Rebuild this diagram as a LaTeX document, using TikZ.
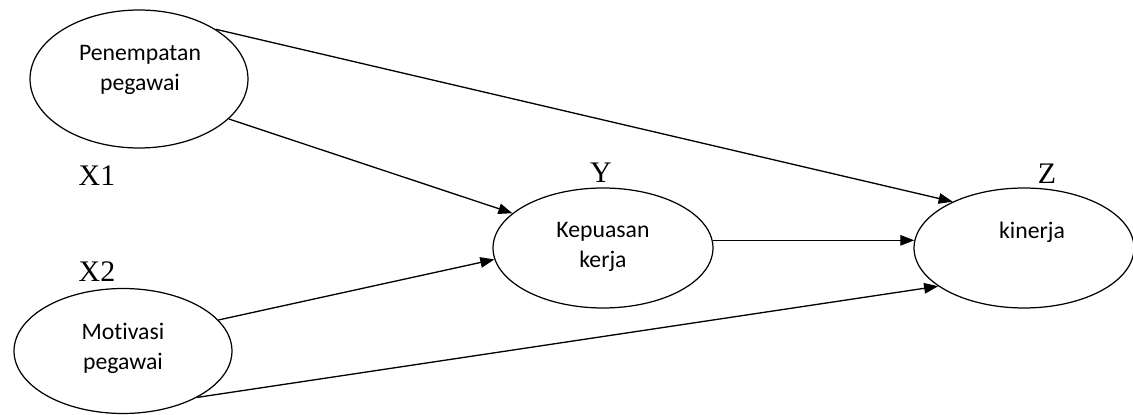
\documentclass[tikz,border=0pt]{standalone}
\usepackage{fontspec}
\setmainfont{Liberation Serif}
\newfontfamily\boxfont[Ligatures=NoCommon]{Carlito}
\usetikzlibrary{shapes.geometric,arrows.meta}

\begin{document}
\begin{tikzpicture}[x=0.02cm, y=-0.02cm,
        var/.style={draw, ellipse, line width=0.7pt, inner sep=0pt},
        vartext/.style={align=center, font=\boxfont\fontsize{13.5}{17}\selectfont},
        varname/.style={font=\fontsize{17}{20}\selectfont},
        path/.style={line width=0.75pt, -{Triangle[length=8pt, width=6pt]}}]
        \useasboundingbox (0,0) rectangle (1133,415);

        \node[var, minimum width=4.36cm, minimum height=2.76cm] (pen) at (139, 79) {};
        \node[var, minimum width=4.36cm, minimum height=2.5cm] (mot) at (123, 351) {};
        \node[var, minimum width=4.4cm, minimum height=2.4cm] (kep) at (603, 248) {};
        \node[var, minimum width=4.4cm, minimum height=2.4cm] (kin) at (1024, 248) {};

        \node[vartext] (pentext) at (140, 70) {Penempatan\\pegawai};
        \node[vartext] (mottext) at (123, 348) {Motivasi\\pegawai};
        \node[vartext] (keptext) at (603, 247) {Kepuasan\\kerja};
        \node[vartext] (kintext) at (1032, 232) {kinerja};

        \node[varname] (x1) at (97, 176) {X1};
        \node[varname] (x2) at (97, 272) {X2};
        \node[varname] (y) at (601, 173) {Y};
        \node[varname] (z) at (1047, 174) {Z};

        \draw[path] (pen.33) -- (kin.147);
        \draw[path] (pen.-24) -- (kep.159);
        \draw[path] (mot.18) -- (kep.186);
        \draw[path] (mot.-32) -- (kin.204);
        \draw[path] (kep.4) -- (kin.176);
    \end{tikzpicture}
\end{document}
